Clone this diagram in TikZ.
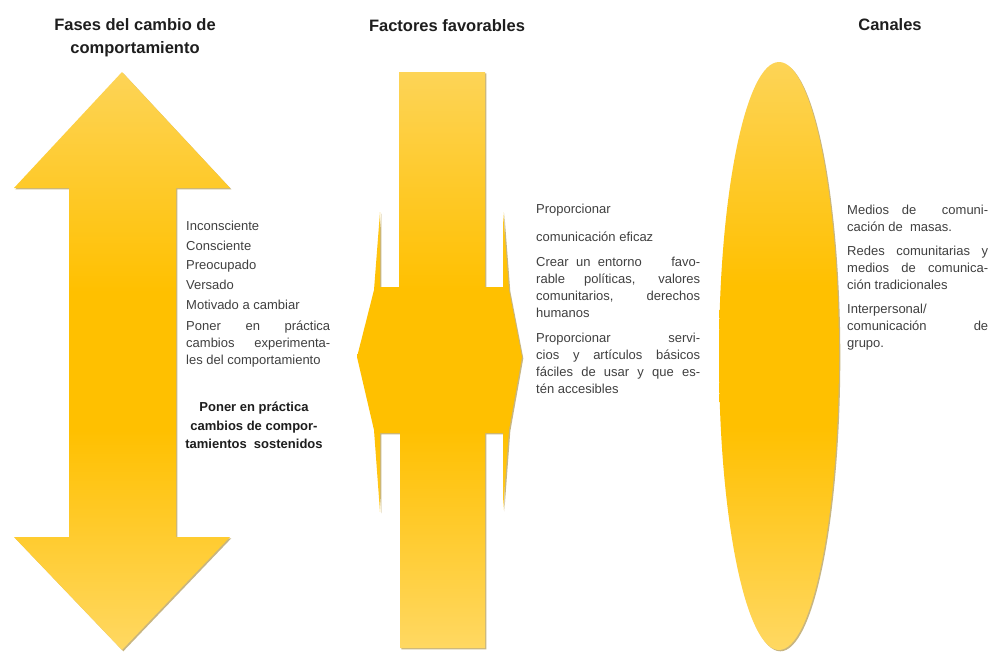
\documentclass[tikz,border=0pt]{standalone}
\usepackage{fontspec}
\setmainfont{Liberation Sans}
\definecolor{gLight}{HTML}{FFD862}
\definecolor{gTop}{HTML}{FDD457}
\definecolor{gMid}{HTML}{FFC000}
\definecolor{gShadow}{HTML}{9C7A18}
\definecolor{txt}{HTML}{404040}
\definecolor{ttl}{HTML}{1E1E1E}
\pgfdeclareverticalshading{goldshade}{100bp}{color(0bp)=(gLight); color(25bp)=(gLight); color(44bp)=(gMid); color(56bp)=(gMid); color(75bp)=(gTop); color(100bp)=(gTop)}
\newcommand\jl[2]{\makebox[#1][s]{#2}}
\begin{document}
\begin{tikzpicture}[x=1pt,y=-1pt,
  goldfill/.style={shading=goldshade},
  goldshadow/.style={fill=gShadow, opacity=0.55},
  title/.style={font=\fontsize{16.5}{23}\selectfont\bfseries, text=ttl, align=center, inner sep=0pt},
  body/.style={font=\fontsize{13}{17}\selectfont, text=txt, align=left, inner sep=0pt, anchor=north west},
  boldbody/.style={font=\fontsize{13}{18.5}\selectfont\bfseries, text=ttl, align=center, inner sep=0pt, anchor=north}]
\useasboundingbox (0,0) rectangle (998,653);
\fill[white] (0,0) rectangle (998,653);

% ---- left double arrow
\def\leftarrowpath{(122,72) -- (230,188) -- (176,188) -- (176,537) -- (230,537) -- (122,650) -- (14,537) -- (69,537) -- (69,188) -- (14,188) -- cycle}
\fill[goldshadow, shift={(1.3,1.3)}] \leftarrowpath;
\shade[goldfill] \leftarrowpath;

% ---- middle shape
\def\midpath{(399,72) -- (485,72) -- (485,287) -- (503,287) -- (503,212) -- (509,290) -- (522,357) -- (509,430) -- (503,510) -- (503,433) -- (485,433) -- (485,648) -- (400,648) -- (400,433) -- (380,433) -- (380,512) -- (374,430) -- (357,357) -- (374,290) -- (380,212) -- (380,287) -- (399,287) -- cycle}
\fill[goldshadow, shift={(1.3,1.3)}] \midpath;
\shade[goldfill] \midpath;

% ---- ellipse
\fill[goldshadow, shift={(1.3,1.3)}] (779,356) ellipse [x radius=60, y radius=294];
\shade[goldfill] (779,356) ellipse [x radius=60, y radius=294];

% ---- titles
\node[title, anchor=base] (t1) at (135,53) {Fases del cambio de\\comportamiento};
\node[title, anchor=base] (t2) at (447,31) {Factores favorables};
\node[title, anchor=base] (t3) at (890,30) {Canales};

% ---- left texts
\node[body] (l1) at (186,221) {Inconsciente};
\node[body] (l2) at (186,241) {Consciente};
\node[body] (l3) at (186,260) {Preocupado};
\node[body] (l4) at (186,280) {Versado};
\node[body] (l5) at (186,300) {Motivado a cambiar};
\node[body] (l6) at (186,321) {\jl{144pt}{Poner en práctica}\\\jl{144pt}{cambios experimenta-}\\les del comportamiento};
\node[boldbody] (l7) at (254,402) {Poner en práctica\\cambios de compor-\\tamientos\ \ sostenidos};

% ---- middle texts
\node[body] (m1) at (536,204) {Proporcionar};
\node[body] (m2) at (536,232) {comunicación eficaz};
\node[body] (m3) at (536,257) {\jl{164pt}{Crear un entorno \ \ \ favo-}\\\jl{164pt}{rable políticas, valores}\\\jl{164pt}{comunitarios, derechos}\\humanos};
\node[body] (m4) at (536,333) {\jl{164pt}{Proporcionar servi-}\\\jl{164pt}{cios y artículos básicos}\\\jl{164pt}{fáciles de usar y que es-}\\tén accesibles};

% ---- right texts
\node[body] (r1) at (847,205) {\jl{141pt}{Medios de \ comuni-}\\cación de \ masas.};
\node[body] (r2) at (847,246) {\jl{141pt}{Redes comunitarias y}\\\jl{141pt}{medios de comunica-}\\ción tradicionales};
\node[body] (r3) at (847,304) {Interpersonal/\\\jl{141pt}{comunicación de}\\grupo.};
\end{tikzpicture}
\end{document}
